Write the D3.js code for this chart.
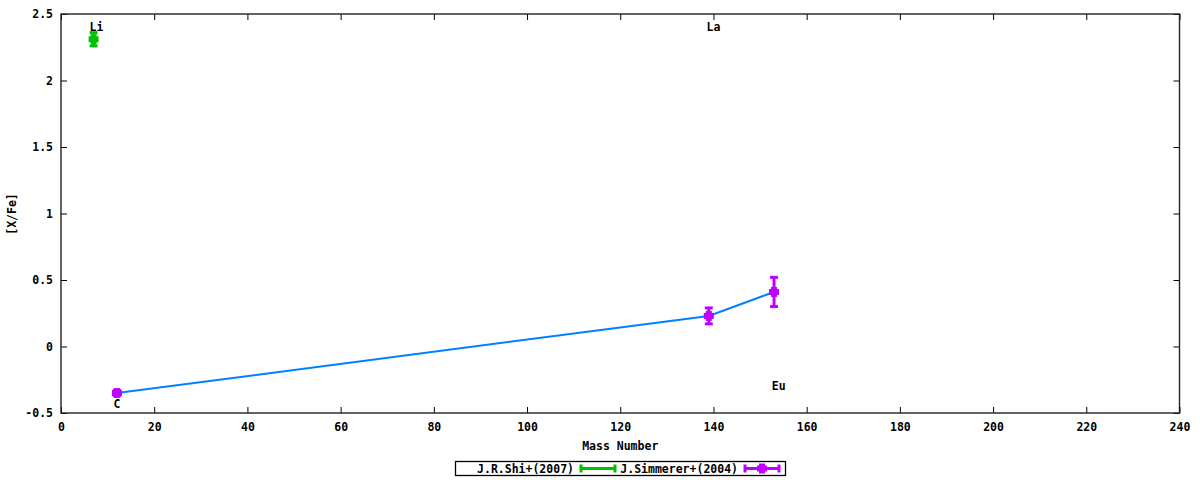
<!DOCTYPE html>
<html>
<head>
<meta charset="utf-8">
<script src="https://cdn.jsdelivr.net/npm/d3@7"></script>
<style>
  body { margin: 0; background: #fff; }
  text { font-family: "DejaVu Sans Mono", monospace; font-weight: bold; font-size: 11.5px; fill: #000; }
</style>
</head>
<body>
<svg id="chart" width="1200" height="480"></svg>
<script>
// ── data ─────────────────────────────────────────────
const shiMass  = [7];
const shiVal   = [2.31];
const shiErr   = [0.05];

const simMass  = [12, 139, 153];
const simVal   = [-0.35, 0.23, 0.41];
const simErr   = [0.02, 0.06, 0.11];

// element labels (placed like the gnuplot labels)
const labelText = ['Li', 'C', 'La', 'Eu'];
const labelMass = [7.6, 12, 140, 154];
const labelVal  = [2.4, -0.43, 2.4, -0.3];

const xTicks = d3.range(0, 241, 20);
const yTicks = [-0.5, 0, 0.5, 1, 1.5, 2, 2.5];

const seriesNames = ['J.R.Shi+(2007)', 'J.Simmerer+(2004)'];
const GREEN = '#00c000', MAGENTA = '#c000ff', BLUE = '#0080ff';

// ── layout ───────────────────────────────────────────
const M = { left: 61, right: 1179.5, top: 14, bottom: 413 };
const svg = d3.select('#chart');
const x = d3.scaleLinear().domain([0, 240]).range([M.left, M.right]);
const y = d3.scaleLinear().domain([-0.5, 2.5]).range([M.bottom, M.top]);

// axes: ticks inward on all four sides
const tick = 6;
svg.append('g').attr('transform', `translate(0,${M.bottom})`)
  .call(d3.axisBottom(x).tickValues(xTicks).tickSize(-tick).tickPadding(10).tickFormat(d => d));
svg.append('g').attr('transform', `translate(0,${M.top})`)
  .call(d3.axisTop(x).tickValues(xTicks).tickSize(-tick).tickFormat(''));
svg.append('g').attr('transform', `translate(${M.left},0)`)
  .call(d3.axisLeft(y).tickValues(yTicks).tickSize(-tick).tickPadding(8).tickFormat(d => d));
svg.append('g').attr('transform', `translate(${M.right},0)`)
  .call(d3.axisRight(y).tickValues(yTicks).tickSize(-tick).tickFormat(''));
svg.selectAll('.domain').remove();
svg.selectAll('.tick line').attr('stroke', '#000');
svg.selectAll('.tick text').style('font-family', '"DejaVu Sans Mono", monospace')
  .style('font-size', '11.5px').style('font-weight', 'bold');

// frame
svg.append('rect')
  .attr('x', M.left).attr('y', M.top)
  .attr('width', M.right - M.left).attr('height', M.bottom - M.top)
  .attr('fill', 'none').attr('stroke', '#222').attr('stroke-width', 1.4);

// axis titles
svg.append('text').attr('x', (M.left + M.right) / 2).attr('y', 450)
  .attr('text-anchor', 'middle').text('Mass Number');
svg.append('text').attr('transform', 'translate(16,214) rotate(-90)')
  .attr('text-anchor', 'middle').text('[X/Fe]');

// line joining Simmerer points
svg.append('path')
  .datum(simMass.map((m, i) => [m, simVal[i]]))
  .attr('d', d3.line().x(d => x(d[0])).y(d => y(d[1])))
  .attr('fill', 'none').attr('stroke', BLUE).attr('stroke-width', 2);

// point marker: chunky cross blob
function marker(g, cx, cy) {
  g.append('rect').attr('x', cx - 5).attr('y', cy - 3).attr('width', 10).attr('height', 6).attr('stroke', 'none');
  g.append('rect').attr('x', cx - 3).attr('y', cy - 5).attr('width', 6).attr('height', 10).attr('stroke', 'none');
}

// error bars
function errorBars(mass, val, err, color) {
  const g = svg.append('g').attr('stroke', color).attr('fill', color);
  mass.forEach((m, i) => {
    const cx = x(m), y0 = y(val[i] - err[i]), y1 = y(val[i] + err[i]);
    g.append('line').attr('x1', cx).attr('x2', cx).attr('y1', y0).attr('y2', y1).attr('stroke-width', 3);
    g.append('line').attr('x1', cx - 4).attr('x2', cx + 4).attr('y1', y0).attr('y2', y0).attr('stroke-width', 3);
    g.append('line').attr('x1', cx - 4).attr('x2', cx + 4).attr('y1', y1).attr('y2', y1).attr('stroke-width', 3);
    marker(g, cx, y(val[i]));
  });
}
errorBars(shiMass, shiVal, shiErr, GREEN);
errorBars(simMass, simVal, simErr, MAGENTA);

svg.selectAll('.elabel').data(labelText).join('text').attr('class', 'elabel')
  .attr('x', (d, i) => x(labelMass[i])).attr('y', (d, i) => y(labelVal[i]) + 4)
  .attr('text-anchor', 'middle').text(d => d);

// legend
const lg = svg.append('g');
lg.append('rect').attr('x', 455.5).attr('y', 461.5).attr('width', 330).attr('height', 14)
  .attr('fill', 'none').attr('stroke', '#000').attr('stroke-width', 1.3);
const legendItems = [
  { name: seriesNames[0], textX: 574, sx: 581, color: GREEN, point: false },
  { name: seriesNames[1], textX: 738, sx: 745, color: MAGENTA, point: true }
];
legendItems.forEach(it => {
  lg.append('text').attr('x', it.textX).attr('y', 472.5).attr('text-anchor', 'end').text(it.name);
  const ly = 468.5;
  const g = lg.append('g').attr('fill', it.color);
  g.append('line').attr('x1', it.sx).attr('x2', it.sx + 34).attr('y1', ly).attr('y2', ly)
    .attr('stroke', it.color).attr('stroke-width', 3);
  [it.sx, it.sx + 34].forEach(cx => g.append('line').attr('x1', cx).attr('x2', cx)
    .attr('y1', ly - 4).attr('y2', ly + 4).attr('stroke', it.color).attr('stroke-width', 3));
  if (it.point) marker(g, it.sx + 17, ly);
});
</script>
</body>
</html>
